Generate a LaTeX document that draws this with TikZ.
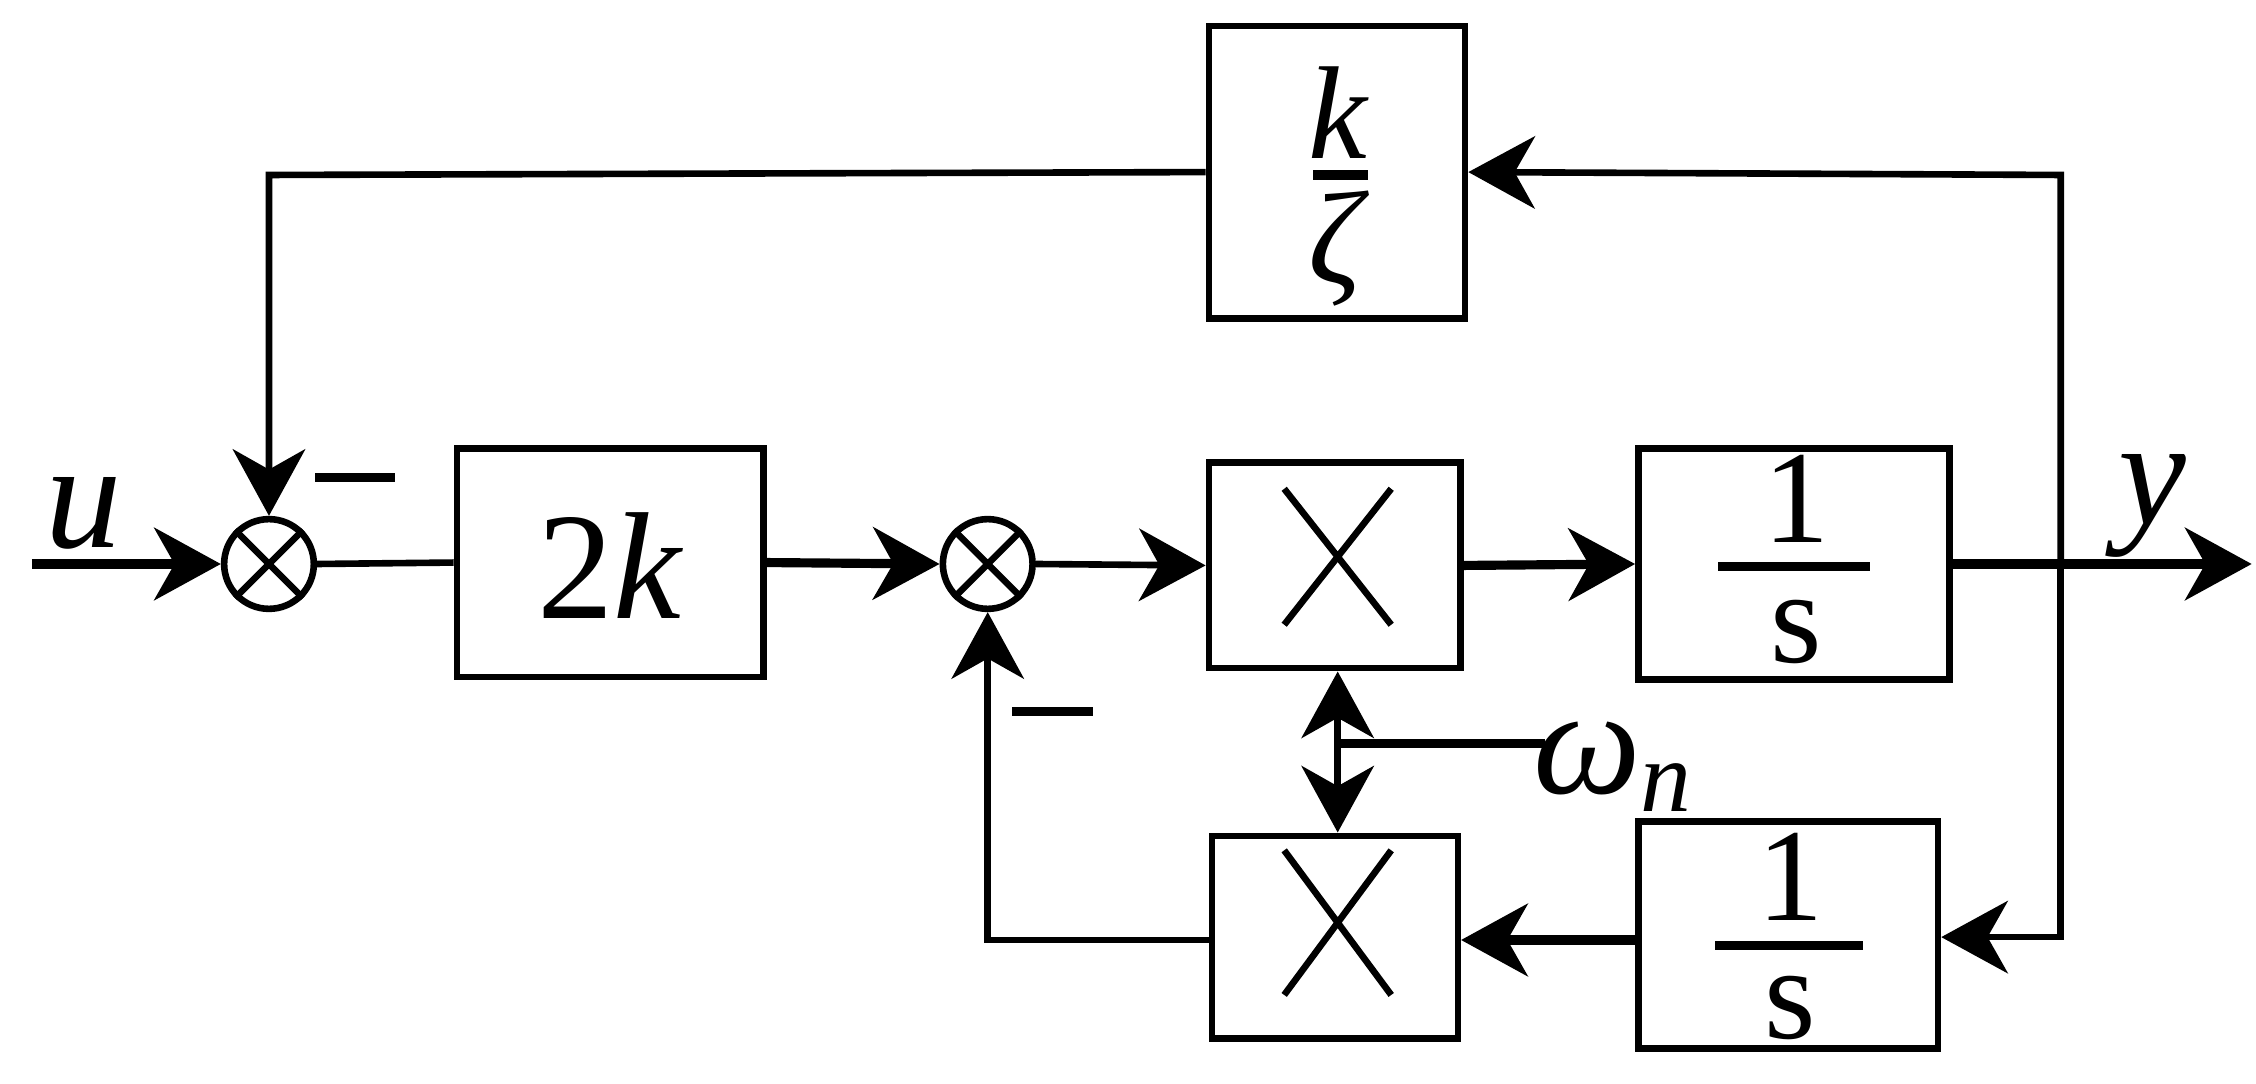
\documentclass[tikz,border=0pt]{standalone}
\usepackage{fontspec}
\setmainfont{Liberation Serif}
\usetikzlibrary{arrows.meta}
\begin{document}
\begin{tikzpicture}[x=0.01cm,y=-0.01cm,
  ln/.style={line width=1.3pt},
  tk/.style={line width=1.8pt},
  ar/.style={-{Stealth[length=4.6mm,width=5mm,inset=1.4mm]}},
  box/.style={draw,line width=1.3pt,inner sep=0pt},
  sum/.style={draw,circle,line width=1.3pt,minimum size=0.62cm,inner sep=0pt},
  txt/.style={font=\fontsize{26}{30}\selectfont,inner sep=0pt}]
\useasboundingbox (0,0) rectangle (1560,749);
% boxes
\node[box,minimum width=1.77cm,minimum height=2.02cm] (kz) at (924.5,119) {};
\node[txt] (kzn) at (926,78) {\textit{k}};
\node[txt] (kzd) at (926,172) {\textit{ζ}};
\draw[tk] (908,121) -- (946,121);
\node[box,minimum width=2.12cm,minimum height=1.58cm] (g2k) at (422,389) {};
\node[txt,font=\fontsize{30}{34}\selectfont] (g2kt) at (422,391) {2\textit{k}};
\node[box,minimum width=1.74cm,minimum height=1.42cm] (m1) at (923,391) {};
\node[box,minimum width=2.15cm,minimum height=1.60cm] (i1) at (1240.5,390) {};
\node[txt] (i1n) at (1242,345) {1};
\node[txt] (i1d) at (1242,437) {s};
\draw[tk] (1188,392) -- (1293,392);
\node[box,minimum width=2.07cm,minimum height=1.57cm] (i2) at (1236.5,646.5) {};
\node[txt] (i2n) at (1238,606) {1};
\node[txt] (i2d) at (1238,697) {s};
\draw[tk] (1186,654) -- (1288,654);
\node[box,minimum width=1.70cm,minimum height=1.40cm] (m2) at (923,648) {};
\draw[ln] (888,338) -- (962,432) (962,338) -- (888,432);
\draw[ln] (888,588) -- (962,688) (962,588) -- (888,688);
% sums
\node[sum] (s1) at (186,390) {};
\node[sum] (s2) at (683,390) {};
\draw[ln] (s1.north west) -- (s1.south east) (s1.north east) -- (s1.south west);
\draw[ln] (s2.north west) -- (s2.south east) (s2.north east) -- (s2.south west);
% coordinates
\coordinate (uin) at (22,390);
\coordinate (yout) at (1557,390);
\coordinate (br) at (1425,390);
\coordinate (brt) at (1425,121);
\coordinate (brb) at (1425,648);
\coordinate (fl) at (186,121);
\coordinate (fb) at (683,650);
\coordinate (wj) at (925,514);
\coordinate (we) at (1068,514);
% connectors
\draw[tk,ar] (uin) -- (s1.west);
\draw[ln] (s1.east) -- (g2k.west);
\draw[tk,ar] (g2k.east) -- (s2.west);
\draw[ln,ar] (s2.east) -- (m1.west);
\draw[tk,ar] (m1.east) -- (i1.west);
\draw[tk,ar] (i1.east) -- (yout);
\draw[ln,ar] (br) -- (brt) -- (kz.east);
\draw[ln,ar] (kz.west) -- (fl) -- (s1.north);
\draw[ln,ar] (br) -- (brb) -- (i2.east |- brb);
\draw[tk,ar] (i2.west |- fb) -- (m2.east |- fb);
\draw[ln,ar] (m2.west |- fb) -- (fb) -- (s2.south);
\draw[tk] (we) -- (wj);
\draw[ln,ar] (wj) -- (wj |- m1.south);
\draw[ln,ar] (wj) -- (wj |- m2.north);
% labels
\node[txt,font=\fontsize{30}{34}\selectfont] (lu) at (58,355) {\textit{u}};
\node[txt,font=\fontsize{30}{34}\selectfont] (ly) at (1488,350) {\textit{y}};
\node[txt,font=\fontsize{30}{34}\selectfont] (lw) at (1115,530) {\textit{ω}\raisebox{-0.12em}{\fontsize{20}{22}\selectfont\textit{n}}};
\draw[tk] (218,330) -- (273,330);
\draw[tk] (700,492) -- (756,492);
\end{tikzpicture}
\end{document}
